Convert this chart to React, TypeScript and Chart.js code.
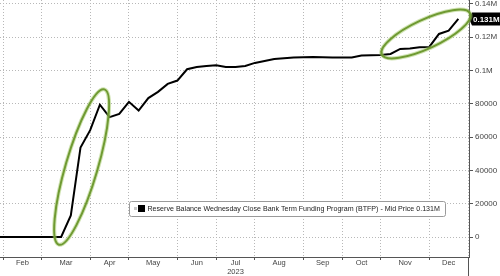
import { useEffect, useRef } from 'react';
import { Chart, registerables } from 'chart.js';

Chart.register(...registerables);

// Weekly (Wednesday) observation dates
const weekDates = [
  '2023-01-18', '2023-01-25',
  '2023-02-01', '2023-02-08', '2023-02-15', '2023-02-22',
  '2023-03-01', '2023-03-08', '2023-03-15', '2023-03-22', '2023-03-29',
  '2023-04-05', '2023-04-12', '2023-04-19', '2023-04-26',
  '2023-05-03', '2023-05-10', '2023-05-17', '2023-05-24', '2023-05-31',
  '2023-06-07', '2023-06-14', '2023-06-21', '2023-06-28',
  '2023-07-05', '2023-07-12', '2023-07-19', '2023-07-26',
  '2023-08-02', '2023-08-09', '2023-08-16', '2023-08-23', '2023-08-30',
  '2023-09-06', '2023-09-13', '2023-09-20', '2023-09-27',
  '2023-10-04', '2023-10-11', '2023-10-18', '2023-10-25',
  '2023-11-01', '2023-11-08', '2023-11-15', '2023-11-22', '2023-11-29',
  '2023-12-06', '2023-12-13', '2023-12-20',
];

// BTFP reserve balance (USD millions)
const reserveBalance = [
  0, 0,
  0, 0, 0, 0,
  0, 0, 13000, 53800, 64200,
  79500, 72000, 74000, 81200,
  76000, 83500, 87200, 92000, 94000,
  100800, 102200, 102800, 103200,
  102200, 102200, 102800, 104600,
  105800, 107000, 107400, 107800, 108000,
  108200, 108000, 107800, 107800,
  107800, 109000, 109200, 109400,
  110000, 113000, 113200, 114000, 114200,
  122000, 124000, 131000,
];

const monthLabels: (string | string[])[] = ['Feb', 'Mar', 'Apr', 'May', 'Jun', ['Jul', '2023'], 'Aug', 'Sep', 'Oct', 'Nov', 'Dec'];
const yTickValues = [0, 20000, 40000, 60000, 80000, 100000, 120000, 140000];

const seriesName = 'Reserve Balance Wednesday Close Bank Term Funding Program (BTFP) - Mid Price';

// Highlighted stretches (circled on the chart)
const highlightRanges = [
  ['2023-03-08', '2023-04-05'],
  ['2023-10-25', '2023-12-20'],
];

const FONT = 'Liberation Sans';

function monthOf(d: string) {
  return d.slice(0, 7);
}

// Indices of the last week of each month (month boundaries), plus the closing boundary
const boundaries: number[] = [];
for (let i = 0; i < weekDates.length - 1; i++) {
  if (monthOf(weekDates[i]) !== monthOf(weekDates[i + 1])) boundaries.push(i);
}
boundaries.push(weekDates.length);

const xTickValues: number[] = [];
for (let k = 0; k < boundaries.length; k++) {
  xTickValues.push(boundaries[k]);
  if (k < boundaries.length - 1) xTickValues.push((boundaries[k] + boundaries[k + 1]) / 2);
}

const fmtM = (v: number) => (v / 1e6).toFixed(3) + 'M';

const overlayPlugin = {
  id: 'overlay',
  afterDatasetsDraw(chart: any) {
    const { ctx, scales, chartArea } = chart;
    const x = scales.x;
    const y = scales.y;
    ctx.save();

    // extension of the right axis line below the x axis
    ctx.strokeStyle = '#555';
    ctx.lineWidth = 1;
    ctx.beginPath();
    ctx.moveTo(Math.round(chartArea.right) - 0.5, chartArea.bottom);
    ctx.lineTo(Math.round(chartArea.right) - 0.5, chart.height);
    ctx.stroke();

    // last value tag
    const last = reserveBalance[reserveBalance.length - 1];
    const ty = y.getPixelForValue(last);
    const tx = chartArea.right + 2;
    ctx.fillStyle = '#000';
    ctx.beginPath();
    ctx.moveTo(tx - 2, ty);
    ctx.lineTo(tx + 1, ty - 6.5);
    ctx.lineTo(chart.width, ty - 6.5);
    ctx.lineTo(chart.width, ty + 6.5);
    ctx.lineTo(tx + 1, ty + 6.5);
    ctx.closePath();
    ctx.fill();
    ctx.fillStyle = '#fff';
    ctx.font = `bold 8px "${FONT}"`;
    ctx.textBaseline = 'middle';
    ctx.textAlign = 'left';
    ctx.fillText(fmtM(last), tx + 2, ty + 0.5);

    // legend box
    const lx = 129.5, ly = 201.5, lw = 316, lh = 15;
    ctx.fillStyle = '#fff';
    ctx.strokeStyle = '#9a9a9a';
    ctx.lineWidth = 1;
    ctx.beginPath();
    ctx.roundRect(lx, ly, lw, lh, 2);
    ctx.fill();
    ctx.stroke();
    ctx.fillStyle = '#c8c8c8';
    ctx.fillRect(134, 207, 3, 3);
    ctx.fillStyle = '#000';
    ctx.fillRect(138, 205, 7, 7);
    ctx.fillStyle = '#222';
    ctx.font = `7.1px "${FONT}"`;
    ctx.textBaseline = 'middle';
    ctx.fillText(`${seriesName} ${fmtM(last)}`, 147.5, 209);

    // highlight ellipses
    const styles = [
      { extend: 12, shift: 4, minor: 16 },
      { extend: 6, shift: 7, minor: 14.5 },
    ];
    highlightRanges.forEach(([a, b], k) => {
      const i1 = weekDates.indexOf(a);
      const i2 = weekDates.indexOf(b);
      const x1 = x.getPixelForValue(i1), y1 = y.getPixelForValue(reserveBalance[i1]);
      const x2 = x.getPixelForValue(i2), y2 = y.getPixelForValue(reserveBalance[i2]);
      const dx = x2 - x1, dy = y2 - y1;
      const len = Math.hypot(dx, dy);
      const ux = dx / len, uy = dy / len;
      const st = styles[k];
      const cx = (x1 + x2) / 2 + ux * st.shift;
      const cy = (y1 + y2) / 2 + uy * st.shift;
      const ang = Math.atan2(dy, dx);
      const major = len / 2 + st.extend;
      ctx.beginPath();
      ctx.ellipse(cx, cy, major, st.minor, ang, 0, Math.PI * 2);
      ctx.strokeStyle = 'rgba(160,200,100,0.5)';
      ctx.lineWidth = 4;
      ctx.stroke();
      ctx.beginPath();
      ctx.ellipse(cx, cy, major, st.minor, ang, 0, Math.PI * 2);
      ctx.strokeStyle = '#6f9a32';
      ctx.lineWidth = 2;
      ctx.stroke();
    });

    ctx.restore();
  },
};

export default function App() {
  const canvasRef = useRef<HTMLCanvasElement | null>(null);

  useEffect(() => {
    const canvas = canvasRef.current;
    if (!canvas) return;
    const firstB = boundaries[0];
    const lastB = boundaries[boundaries.length - 1];
    const chart = new Chart(canvas, {
      type: 'line',
      data: {
        datasets: [
          {
            label: seriesName,
            data: reserveBalance.map((v, i) => ({ x: i, y: v })),
            borderColor: '#000',
            borderWidth: 2,
            pointRadius: 0,
            tension: 0,
            fill: false,
          },
        ],
      },
      options: {
        responsive: false,
        animation: false,
        devicePixelRatio: 1,
        layout: { padding: 0 },
        plugins: {
          legend: { display: false },
          tooltip: { enabled: false },
        },
        scales: {
          x: {
            type: 'linear',
            min: firstB - 0.31,
            max: lastB + 0.1,
            afterBuildTicks: (s: any) => {
              s.ticks = xTickValues.map((v) => ({ value: v }));
            },
            afterFit: (s: any) => {
              s.height = 19;
              s.paddingLeft = 0;
              s.paddingRight = 0;
            },
            ticks: {
              autoSkip: false,
              maxRotation: 0,
              minRotation: 0,
              padding: -2,
              color: '#444',
              font: { family: FONT, size: 7.5 },
              callback: (_v: any, i: number) => (i % 2 === 1 ? monthLabels[(i - 1) / 2] : ''),
            },
            grid: {
              color: (c: any) => (c.index % 2 === 0 ? '#b8b8b8' : 'rgba(0,0,0,0)'),
              tickColor: (c: any) => (c.index % 2 === 0 ? '#555' : 'rgba(0,0,0,0)'),
              tickLength: 3,
              lineWidth: 1,
            },
            border: { display: true, color: '#555', width: 1, dash: [1, 2] },
          },
          y: {
            type: 'linear',
            position: 'right',
            min: -12000,
            max: 142400,
            afterBuildTicks: (s: any) => {
              s.ticks = yTickValues.map((v) => ({ value: v }));
            },
            afterFit: (s: any) => {
              s.width = 31;
              s.paddingTop = 0;
              s.paddingBottom = 0;
            },
            ticks: {
              padding: 2,
              color: '#444',
              font: { family: FONT, size: 8 },
              callback: (v: any) => (v >= 100000 ? v / 1e6 + 'M' : String(v)),
            },
            grid: { color: '#b8b8b8', tickColor: '#555', tickLength: 4, lineWidth: 1 },
            border: { display: true, color: '#555', width: 1, dash: [1, 2] },
          },
        },
      },
      plugins: [overlayPlugin],
    } as any);
    return () => chart.destroy();
  }, []);

  return (
    <div style={{ position: 'absolute', left: 0, top: 0, width: 500, height: 276, background: '#fff' }}>
      <canvas ref={canvasRef} width={500} height={276} style={{ display: 'block' }} />
    </div>
  );
}
